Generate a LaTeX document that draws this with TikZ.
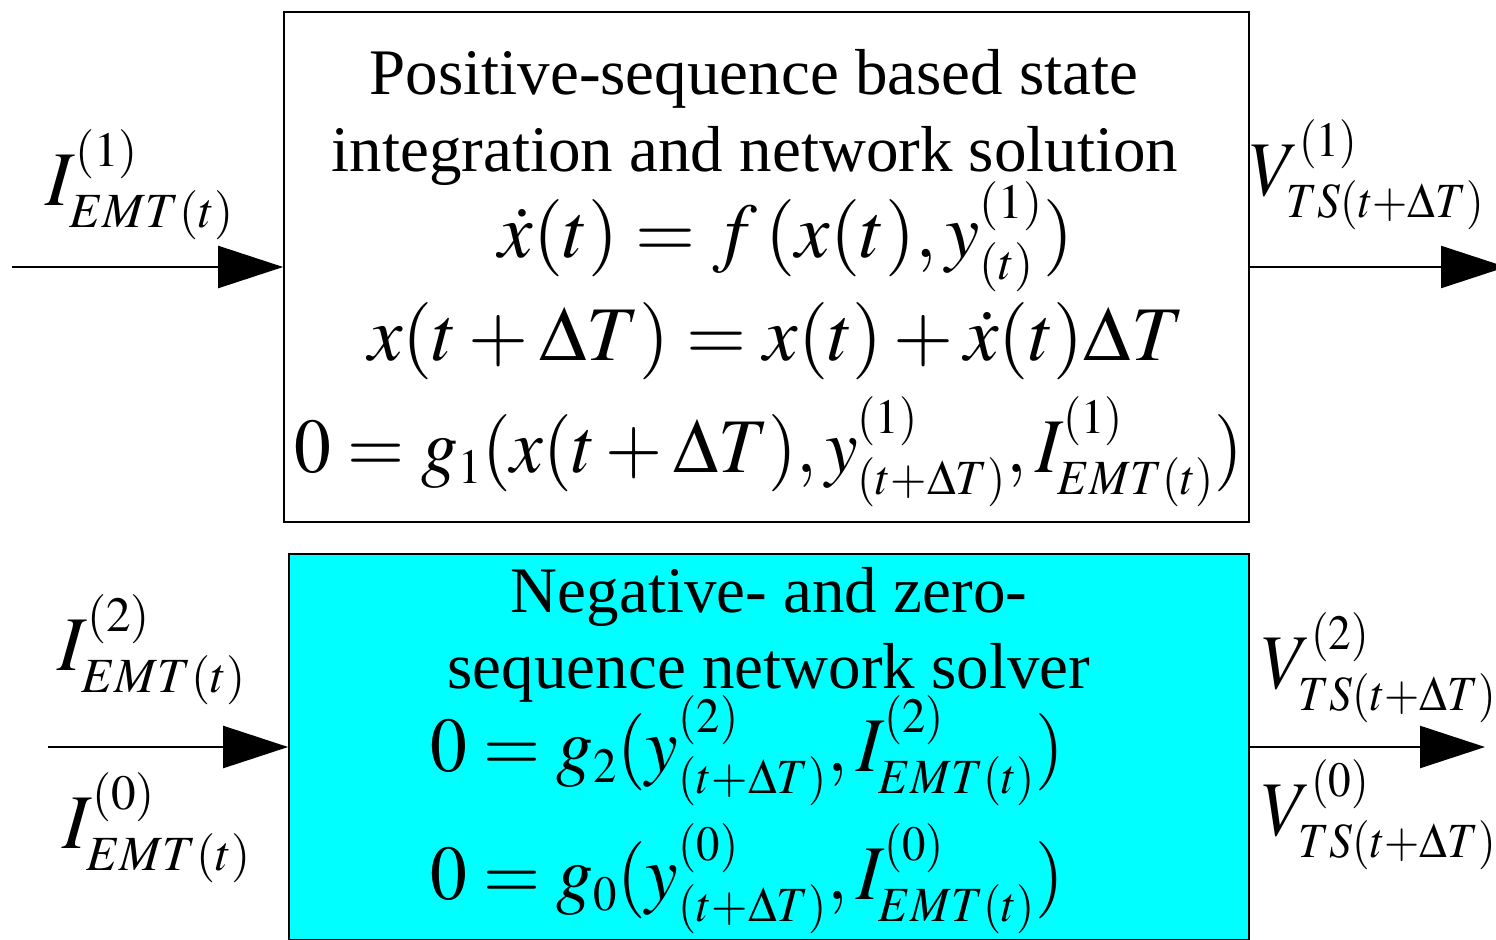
\documentclass[tikz,border=0pt]{standalone}
\usepackage{mathptmx}
\usepackage{fontspec}
\setmainfont{Liberation Serif}
\usepackage{graphicx}
\usetikzlibrary{arrows.meta}
\definecolor{solvercyan}{RGB}{0,255,255}
\DeclareMathSizes{44}{44}{28}{22}

\begin{document}
\begin{tikzpicture}[x=0.02cm,y=-0.02cm,
	box/.style={draw,line width=1.1pt,inner sep=0pt},
	txt/.style={font=\fontsize{37}{42}\selectfont,inner sep=0pt,anchor=base},
	eq/.style={font=\fontsize{44}{50}\selectfont,inner sep=0pt,anchor=base},
	lbl/.style={font=\fontsize{44}{50}\selectfont,inner sep=0pt,anchor=base west},
	arr/.style={line width=1pt,-{Triangle[length=37pt,width=24pt]}}]
	\useasboundingbox (0,0) rectangle (1496,939);

	% positive-sequence block
	\node[box,minimum width=19.3cm,minimum height=10.2cm] (pos) at (766.5,267) {};
	\node[txt] (posA) at (754,95) {Positive-sequence based state};
	\node[txt] (posB) at (755,172) {integration and network solution};
	\node[eq] (posE1) at (786,257) {$\dot{x}(t)=f\,(x(t),y^{(1)}_{(t)})$};
	\node[eq] (posE2) at (776,360) {$x(t+\Delta T)=x(t)+\dot{x}(t)\Delta T$};
	\node[eq] (posE3) at (769,472) {\scalebox{0.95}[1]{$0=g_1(x(t+\Delta T),y^{(1)}_{(t+\Delta T)},I^{(1)}_{EMT(t)})$}};

	% negative- and zero-sequence block
	\node[box,fill=solvercyan,minimum width=19.2cm,minimum height=7.72cm] (neg) at (769,747) {};
	\node[txt] (negA) at (769,612) {Negative- and zero-};
	\node[txt] (negB) at (769,688) {sequence network solver};
	\node[eq] (negE2) at (747,771) {\scalebox{0.95}[1]{$0=g_2(y^{(2)}_{(t+\Delta T)},I^{(2)}_{EMT(t)})$}};
	\node[eq] (negE0) at (747,899) {\scalebox{0.95}[1]{$0=g_0(y^{(0)}_{(t+\Delta T)},I^{(0)}_{EMT(t)})$}};

	% inputs and outputs
	\coordinate (inPos) at (12,267);
	\coordinate (outPos) at (1506,267);
	\coordinate (inNeg) at (48,747);
	\coordinate (outNeg) at (1485,747);
	\draw[arr] (inPos) -- (pos.west);
	\draw[arr] (pos.east) -- (outPos);
	\draw[arr] (inNeg) -- (neg.west);
	\draw[arr] (neg.east) -- (outNeg);

	\node[lbl] (iPos) at (45,205) {$I^{(1)}_{EMT(t)}$};
	\node[lbl] (vPos) at (1250,195) {\scalebox{0.92}[1]{$V^{(1)}_{TS(t+\Delta T)}$}};
	\node[lbl] (iNeg) at (57,670) {$I^{(2)}_{EMT(t)}$};
	\node[lbl] (iZero) at (62,848) {$I^{(0)}_{EMT(t)}$};
	\node[lbl] (vNeg) at (1262,688) {\scalebox{0.92}[1]{$V^{(2)}_{TS(t+\Delta T)}$}};
	\node[lbl] (vZero) at (1262,835) {\scalebox{0.92}[1]{$V^{(0)}_{TS(t+\Delta T)}$}};
\end{tikzpicture}
\end{document}
